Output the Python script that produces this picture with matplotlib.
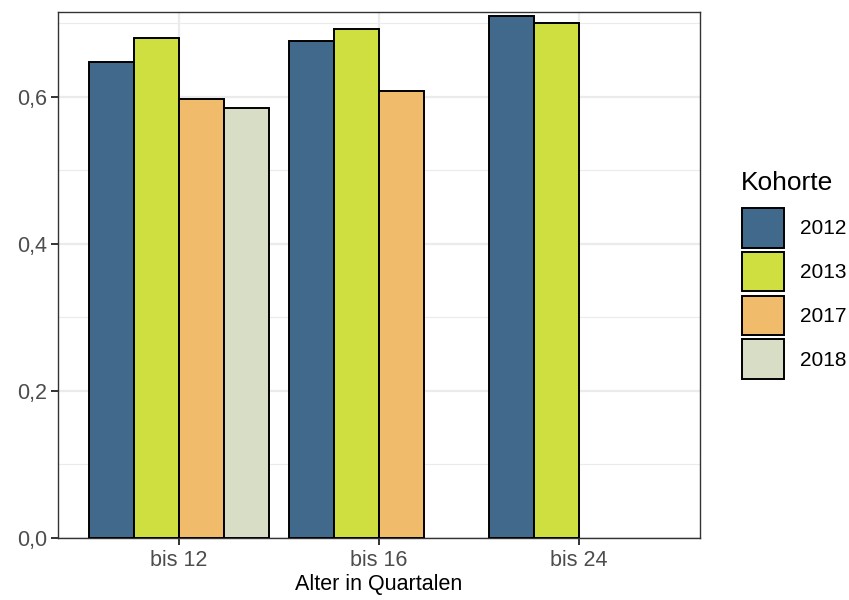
"""Anteil je Kohorte nach Alter in Quartalen (ggplot theme_bw look)."""

import matplotlib
import matplotlib.pyplot as plt
import numpy as np
from matplotlib.patches import Patch
from matplotlib.ticker import FixedLocator, FuncFormatter

matplotlib.use("Agg")

# --- data -------------------------------------------------------------------
GROUPS = ["bis 12", "bis 16", "bis 24"]
COHORTS = ["2012", "2013", "2017", "2018"]
V2012 = [0.648, 0.676, 0.710]
V2013 = [0.680, 0.693, 0.701]
V2017 = [0.597, 0.608, np.nan]
V2018 = [0.585, np.nan, np.nan]
VALUES = [V2012, V2013, V2017, V2018]

# --- style --------------------------------------------------------------------
COLORS = ["#41698c", "#cfdf40", "#f0bc6c", "#d8ddc6"]
PANEL_BORDER = "#333333"
GRID = "#ebebeb"
TICK_TEXT = "#4d4d4d"

plt.rcParams.update({
    "font.family": ["Liberation Sans", "DejaVu Sans"],
    "figure.facecolor": "white",
    "axes.facecolor": "white",
})

fig = plt.figure(figsize=(8.49, 6.0), dpi=100)
ax = fig.add_axes([58 / 849, 62 / 600, (700 - 58) / 849, (538 - 12) / 600])

x = np.arange(1, len(GROUPS) + 1)
bar_w = 0.225
for i, (vals, color, label) in enumerate(zip(VALUES, COLORS, COHORTS)):
    offset = (i - 1.5) * bar_w
    ax.bar(x + offset, vals, width=bar_w, color=color, edgecolor="black",
           linewidth=1.4, zorder=3, label=label)

ax.set_xlim(0.395, 3.605)
ax.set_ylim(0, 0.7156)

# grid: major + minor like ggplot
ax.yaxis.set_major_locator(FixedLocator([0.0, 0.2, 0.4, 0.6]))
ax.yaxis.set_minor_locator(FixedLocator([0.1, 0.3, 0.5, 0.7]))
ax.yaxis.set_major_formatter(FuncFormatter(lambda v, _: f"{v:.1f}".replace(".", ",")))
ax.set_xticks(x)
ax.set_xticklabels(GROUPS)
ax.yaxis.grid(True, which="major", color=GRID, linewidth=1.6, zorder=0)
ax.yaxis.grid(True, which="minor", color=GRID, linewidth=0.8, zorder=0)
ax.xaxis.grid(True, which="major", color=GRID, linewidth=1.6, zorder=0)
ax.set_axisbelow(True)

for spine in ax.spines.values():
    spine.set_color(PANEL_BORDER)
    spine.set_linewidth(1.0)
ax.tick_params(axis="both", which="major", length=5, width=1.4, color=PANEL_BORDER,
               labelsize=15.5, labelcolor=TICK_TEXT, pad=3)
ax.tick_params(axis="x", which="major", pad=4)
ax.tick_params(axis="y", which="minor", length=0)

ax.set_xlabel("Alter in Quartalen", fontsize=15.5, color="black", labelpad=2)

# legend: title as separate text so the gap to the keys matches
fig.text(741 / 849, 1 - 183 / 600, "Kohorte", fontsize=19, va="center", ha="left")
handles = [Patch(facecolor=c, edgecolor="black", linewidth=1.4, label=l)
           for c, l in zip(COLORS, COHORTS)]
leg = fig.legend(handles=handles, loc="upper left",
                 bbox_to_anchor=(742 / 849, 1 - 208 / 600), frameon=False,
                 fontsize=15, handlelength=2.0, handleheight=2.55,
                 labelspacing=0.2, handletextpad=0.8, borderpad=0,
                 borderaxespad=0)

fig.savefig("out.png", dpi=100)
